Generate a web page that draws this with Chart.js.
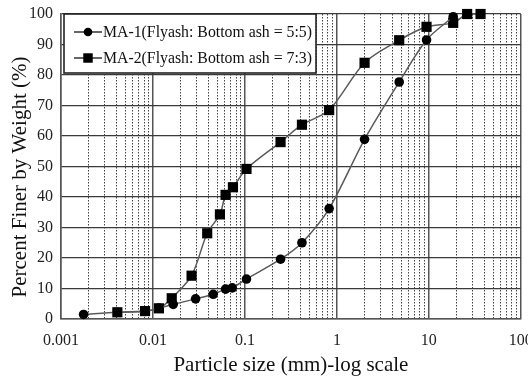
<!DOCTYPE html>
<html>
<head>
<meta charset="utf-8">
<script src="https://cdn.jsdelivr.net/npm/chart.js@4/dist/chart.umd.min.js"></script>
<style>
  html, body { margin: 0; padding: 0; background: #fff; }
  canvas { display: block; }
</style>
</head>
<body>
<canvas id="psd" width="528" height="379"></canvas>
<script>
// values
const ma1Size  = [0.00176, 0.0041, 0.0082, 0.0116, 0.0166, 0.0291, 0.0452, 0.0616, 0.0728, 0.104, 0.244, 0.417, 0.824, 2.0, 4.76, 9.44, 18.4];
const ma1Finer = [1.5, 2.2, 2.5, 3.6, 4.8, 6.6, 8.1, 9.8, 10.2, 13.1, 19.6, 25.0, 36.2, 58.9, 77.7, 91.5, 99.1];
const ma2Size  = [0.0041, 0.0082, 0.0116, 0.016, 0.0263, 0.0389, 0.0535, 0.0616, 0.0741, 0.104, 0.244, 0.417, 0.824, 2.0, 4.76, 9.44, 18.4, 26.1, 36.5];
const ma2Finer = [2.2, 2.6, 3.5, 6.8, 14.2, 28.1, 34.3, 40.7, 43.2, 49.2, 58.0, 63.7, 68.5, 84.0, 91.4, 95.8, 97.1, 100, 100];
const seriesLabels = ['MA-1(Flyash: Bottom ash = 5:5)', 'MA-2(Flyash: Bottom ash = 7:3)'];
const xTicks = [0.001, 0.01, 0.1, 1, 10, 100];
const yTicks = [0, 10, 20, 30, 40, 50, 60, 70, 80, 90, 100];

const serif = "'Liberation Serif', 'Times New Roman', serif";
const pair = (xs, ys) => xs.map((x, i) => ({ x, y: ys[i] }));

// 2..9 within each decade, for the dotted grid
const minorTicks = [];
xTicks.slice(0, -1).forEach(d => { for (let m = 2; m <= 9; m++) minorTicks.push(+(d * m).toPrecision(3)); });

const boxLegend = {
  id: 'boxLegend',
  afterDraw(chart) {
    const { ctx, chartArea } = chart;
    const x0 = chartArea.left + 3, y0 = chartArea.top, w = 252, h = 59;
    ctx.save();
    ctx.fillStyle = '#fff';
    ctx.fillRect(x0, y0, w, h);
    ctx.lineWidth = 1.6;
    ctx.strokeStyle = '#222';
    ctx.strokeRect(x0, y0, w, h);
    chart.data.datasets.forEach((ds, i) => {
      const y = y0 + 18 + i * 26;
      ctx.beginPath();
      ctx.lineWidth = 1.5;
      ctx.strokeStyle = '#333';
      ctx.moveTo(x0 + 10, y);
      ctx.lineTo(x0 + 38, y);
      ctx.stroke();
      ctx.fillStyle = '#000';
      Chart.helpers.drawPoint(ctx, { pointStyle: ds.pointStyle, radius: ds.pointRadius - 0.5, borderWidth: 0, rotation: 0 }, x0 + 24, y);
      ctx.fillStyle = '#111';
      ctx.font = '15.8px ' + serif;
      ctx.textBaseline = 'middle';
      ctx.fillText(ds.label, x0 + 39, y + 1);
    });
    ctx.restore();
  }
};

const lineStyle = {
  borderColor: '#5a5a5a', borderWidth: 1.5, tension: 0.3,
  pointBackgroundColor: '#000', pointBorderColor: '#000', pointBorderWidth: 0,
  clip: false
};

new Chart(document.getElementById('psd'), {
  type: 'line',
  data: {
    datasets: [
      { label: seriesLabels[0], data: pair(ma1Size, ma1Finer), pointStyle: 'circle', pointRadius: 4.8, ...lineStyle },
      { label: seriesLabels[1], data: pair(ma2Size, ma2Finer), pointStyle: 'rect', pointRadius: 7.2, ...lineStyle }
    ]
  },
  options: {
    responsive: false,
    animation: false,
    devicePixelRatio: 1,
    layout: { padding: { top: 14, right: 7, left: 0, bottom: 0 } },
    plugins: { legend: { display: false }, tooltip: { enabled: false }, colors: { enabled: false } },
    scales: {
      x: {
        type: 'logarithmic', min: 0.001, max: 100,
        afterBuildTicks: s => { s.ticks = xTicks.map(v => ({ value: v })); },
        afterFit: s => { s.height = 60; s.paddingLeft = 0; s.paddingRight = 0; },
        ticks: {
          padding: 12, color: '#222', font: { family: serif, size: 16 },
          maxRotation: 0, autoSkip: false,
          callback: v => String(v)
        },
        grid: { color: '#555', lineWidth: 1.5, drawTicks: false },
        border: { color: '#555', width: 1.5 },
        title: { display: true, text: 'Particle size (mm)-log scale', color: '#111', font: { family: serif, size: 21 }, padding: { top: 0, bottom: 1 } }
      },
      xMinor: {
        type: 'logarithmic', min: 0.001, max: 100, position: 'bottom',
        afterBuildTicks: s => { s.ticks = minorTicks.map(v => ({ value: v })); },
        afterFit: s => { s.height = 0; s.paddingLeft = 0; s.paddingRight = 0; },
        ticks: { display: false },
        grid: { color: '#444', lineWidth: 1, drawTicks: false },
        border: { display: false, dash: [1.5, 1.5] }
      },
      y: {
        min: 0, max: 100,
        afterBuildTicks: s => { s.ticks = yTicks.map(v => ({ value: v })); },
        afterFit: s => { s.width = 61; s.paddingTop = 0; s.paddingBottom = 0; },
        ticks: { padding: 8, color: '#222', font: { family: serif, size: 16 } },
        grid: { color: '#3a3a3a', lineWidth: 1.3, drawTicks: false },
        border: { color: '#555', width: 1.5 },
        // trailing spaces nudge the centred title a little lower, as in the original
        title: { display: true, text: 'Percent Finer by Weight (%)    ', color: '#111', font: { family: serif, size: 21 }, padding: { top: 8, bottom: 0 } }
      }
    }
  },
  plugins: [boxLegend]
});
</script>
</body>
</html>
